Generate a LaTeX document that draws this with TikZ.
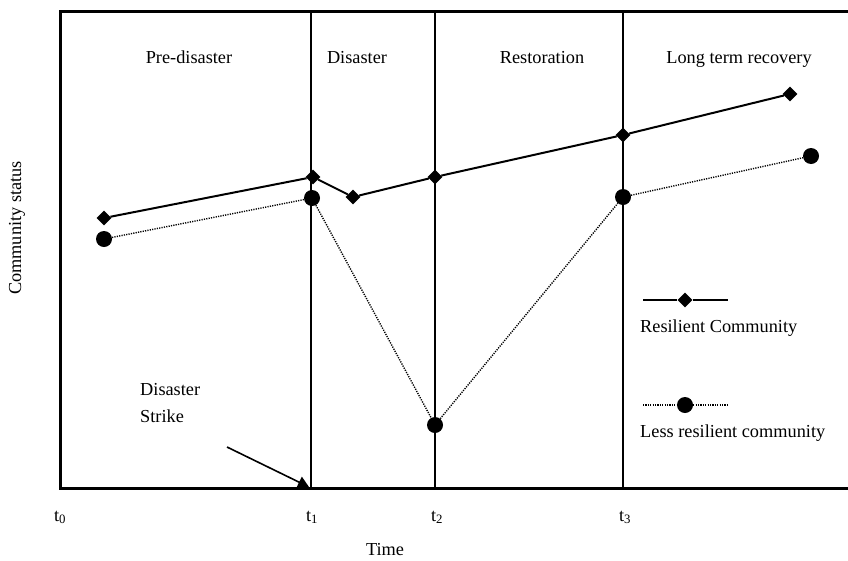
\documentclass[tikz,border=0pt]{standalone}
\usepackage{fontspec}
\setmainfont{Liberation Serif}
\usetikzlibrary{shapes.geometric,arrows.meta}
\begin{document}
\begin{tikzpicture}[x=1pt,y=-1pt,
  lbl/.style={font=\fontsize{18.3}{22}\selectfont, inner sep=0pt},
  dia/.style={diamond, fill=black, inner sep=0pt, minimum size=15pt},
  dot/.style={circle, fill=black, inner sep=0pt, minimum size=16pt},
  frame/.style={line width=3pt},
  phase/.style={line width=2.2pt},
  res/.style={line width=2pt},
  less/.style={dash pattern=on 1.2pt off 1.2pt, line width=1.4pt}]
\useasboundingbox (0,0) rectangle (848,560);
% frame
\coordinate (tr) at (848,11);
\coordinate (tl) at (60,11);
\coordinate (bl) at (60,488);
\coordinate (br) at (848,488);
\draw[frame] (tr) -- (tl) -- (bl) -- (br);
% phase lines
\foreach \n/\x in {a/311,b/435,c/623}{
  \coordinate (\n top) at (\x,11);
  \coordinate (\n bot) at (\x,488);
  \draw[phase] (\n top) -- (\n bot);
}
% phase labels
\node[lbl, anchor=base] (pre) at (189,63) {Pre-disaster};
\node[lbl, anchor=base] (dis) at (357,63) {Disaster};
\node[lbl, anchor=base] (rest) at (542,63) {Restoration};
\node[lbl, anchor=base] (ltr) at (739,63) {Long term recovery};
% resilient series
\node[dia] (r1) at (104,218) {};
\node[dia] (r2) at (313,177) {};
\node[dia] (r3) at (353,197) {};
\node[dia] (r4) at (435,177) {};
\node[dia] (r5) at (623,135) {};
\node[dia] (r6) at (790,94) {};
\draw[res] (r1) -- (r2) -- (r3) -- (r4) -- (r5) -- (r6);
% less resilient series
\node[dot] (l1) at (104,239) {};
\node[dot] (l2) at (312,198) {};
\node[dot] (l3) at (435,425) {};
\node[dot] (l4) at (623,197) {};
\node[dot] (l5) at (811,156) {};
\draw[less] (l1) -- (l2) -- (l3) -- (l4) -- (l5);
% axis labels
\node[lbl, rotate=90] (cs) at (17,228) {Community status};
\node[lbl, anchor=base] (time) at (385,555) {Time};
\node[lbl, anchor=base] (t0) at (60,521) {t\textsubscript{0}};
\node[lbl, anchor=base] (t1) at (312,521) {t\textsubscript{1}};
\node[lbl, anchor=base] (t2) at (437,521) {t\textsubscript{2}};
\node[lbl, anchor=base] (t3) at (625,521) {t\textsubscript{3}};
% disaster strike
\node[lbl, anchor=base west] (ds1) at (140,395) {Disaster};
\node[lbl, anchor=base west] (ds2) at (140,422) {Strike};
\coordinate (as) at (227,447);
\coordinate (ae) at (309,487);
\draw[line width=1.6pt, -{Triangle[length=11pt,width=12pt]}] (as) -- (ae);
% legend
\coordinate (lg1a) at (643,300);
\coordinate (lg1b) at (728,300);
\node[dia] (lgd) at (685,300) {};
\draw[line width=2.4pt] (lg1a) -- (lgd);
\draw[line width=1.4pt] (lgd) -- (lg1b);
\node[lbl, anchor=base west] (lgt1) at (640,332) {Resilient Community};
\coordinate (lg2a) at (643,405);
\coordinate (lg2b) at (728,405);
\node[dot] (lgc) at (685,405) {};
\draw[less, line width=1.1pt] (lg2a) -- (lgc) -- (lg2b);
\node[lbl, anchor=base west] (lgt2) at (640,437) {Less resilient community};
\end{tikzpicture}
\end{document}
